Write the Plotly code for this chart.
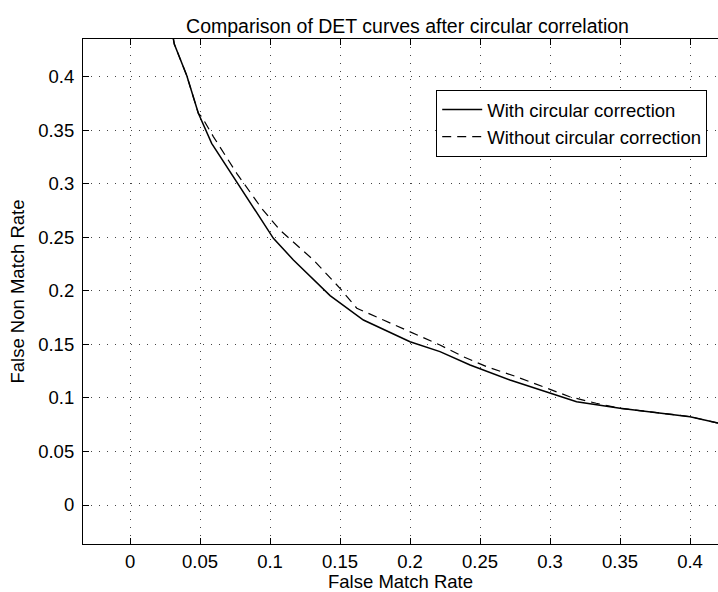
import plotly.graph_objects as go

# Data
fmr_with = [0.029, 0.0316, 0.0405, 0.0488, 0.0583, 0.0738, 0.0857, 0.1024, 0.1167,
            0.1429, 0.1667, 0.2, 0.2214, 0.2429, 0.2714, 0.3, 0.319, 0.35, 0.381, 0.4, 0.42]
fnmr_with = [0.45, 0.4304, 0.401, 0.3657, 0.3377, 0.3066, 0.2817, 0.249, 0.2288,
             0.1955, 0.1727, 0.1525, 0.1432, 0.1307, 0.1167, 0.1043, 0.0965, 0.0903, 0.0856, 0.0825, 0.0765]

fmr_without = [0.029, 0.0316, 0.0405, 0.0488, 0.0512, 0.0595, 0.0762, 0.094, 0.107, 0.131, 0.15,
               0.162, 0.181, 0.2024, 0.2214, 0.238, 0.2548, 0.276, 0.295, 0.314, 0.333, 0.35,
               0.381, 0.4, 0.42]
fnmr_without = [0.45, 0.4304, 0.401, 0.3657, 0.3626, 0.344, 0.3097, 0.277, 0.2568, 0.2288, 0.2023,
                0.1837, 0.1727, 0.1603, 0.1494, 0.1385, 0.1291, 0.1198, 0.1105, 0.1011, 0.095, 0.0903,
                0.0856, 0.0825, 0.0765]

x_ticks = [0, 0.05, 0.1, 0.15, 0.2, 0.25, 0.3, 0.35, 0.4]
x_tick_labels = ["0", "0.05", "0.1", "0.15", "0.2", "0.25", "0.3", "0.35", "0.4"]
y_ticks = [0, 0.05, 0.1, 0.15, 0.2, 0.25, 0.3, 0.35, 0.4]
y_tick_labels = ["0", "0.05", "0.1", "0.15", "0.2", "0.25", "0.3", "0.35", "0.4"]

FONT = "Liberation Sans, Arial, Helvetica, sans-serif"

fig = go.Figure()
fig.add_trace(go.Scatter(x=fmr_with, y=fnmr_with, mode="lines",
                         name="With circular correction",
                         line=dict(color="black", width=1.5)))
fig.add_trace(go.Scatter(x=fmr_without, y=fnmr_without, mode="lines",
                         name="Without circular correction",
                         line=dict(color="black", width=1.2, dash="9px,6px")))

axis_common = dict(
    showline=True, linecolor="black", linewidth=1.2,
    ticks="inside", ticklen=6, tickcolor="black", tickwidth=1,
    showgrid=True, gridcolor="#444", gridwidth=1, griddash="1px,7px",
    zeroline=False,
    tickfont=dict(family=FONT, size=18.5, color="black"),
)

fig.update_xaxes(**axis_common, range=[-0.0336, 0.42], tickvals=x_ticks, ticktext=x_tick_labels,
                 mirror="ticks", ticklabelstandoff=1,
                 title=dict(text="False Match Rate", font=dict(family=FONT, size=18.5, color="black"),
                            standoff=4))
fig.update_yaxes(**axis_common, range=[-0.0364, 0.4351], tickvals=y_ticks, ticktext=y_tick_labels,
                 mirror=False, ticklabelstandoff=4,
                 title=dict(text="False Non Match Rate", font=dict(family=FONT, size=18.5, color="black"),
                            standoff=8))

fig.update_layout(
    width=718, height=592,
    margin=dict(l=83, r=0, t=39, b=48),
    paper_bgcolor="white", plot_bgcolor="white",
    title=dict(text="Comparison of DET curves after circular correlation",
               font=dict(family=FONT, size=19.5, color="black"),
               x=407.5 / 718, xanchor="center", xref="container",
               y=1 - 26 / 592, yanchor="middle", yref="container"),
    legend=dict(x=0.983, xanchor="right", y=0.899, yanchor="top",
                bgcolor="white", bordercolor="black", borderwidth=1,
                font=dict(family=FONT, size=18.5, color="black"),
                tracegroupgap=0, itemwidth=40),
    showlegend=True,
)

fig.write_html("out.html")
